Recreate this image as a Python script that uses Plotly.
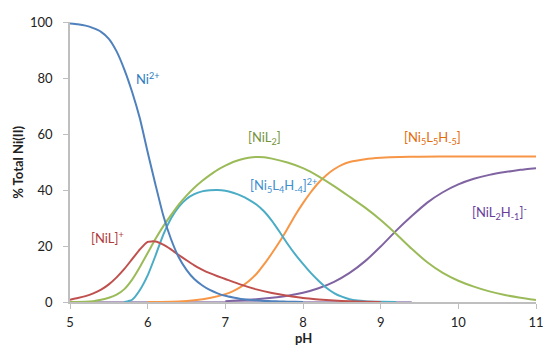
import plotly.graph_objects as go

# ---- data ----
ph_ni = [5.0, 5.1, 5.2, 5.3, 5.4, 5.5, 5.6, 5.7, 5.8, 5.9, 6.0, 6.1, 6.2, 6.3, 6.4, 6.5, 6.6, 6.7, 6.8, 6.9,
         7.0, 7.1, 7.2, 7.3, 7.4, 7.5, 7.6, 7.7, 7.8, 7.9, 8.0]
ni2 = [99.5, 99.2, 98.7, 97.8, 96.5, 94.0, 89.5, 83.0, 75.0, 65.5, 53.5, 42.0, 31.0, 22.5, 16.0, 11.5, 8.2, 6.0, 4.3, 3.1,
       2.2, 1.6, 1.1, 0.8, 0.6, 0.4, 0.3, 0.2, 0.1, 0.05, 0.0]

ph_nil = [5.0, 5.1, 5.2, 5.3, 5.4, 5.5, 5.6, 5.7, 5.8, 5.9, 6.0, 6.1, 6.2, 6.3, 6.4, 6.5, 6.6, 6.7, 6.8, 6.9,
          7.0, 7.2, 7.4, 7.6, 7.8, 8.0, 8.2, 8.4, 8.6, 8.8, 9.0]
nil = [0.8, 1.4, 2.1, 3.1, 4.4, 6.3, 8.8, 11.8, 15.3, 18.8, 21.5, 21.6, 20.5, 18.8, 16.8, 14.9, 13.1, 11.6, 10.3, 9.2,
       8.2, 6.2, 4.5, 3.2, 2.2, 1.4, 0.9, 0.5, 0.25, 0.1, 0.0]

ph_nil2 = [5.0, 5.2, 5.3, 5.4, 5.5, 5.6, 5.7, 5.8, 5.9, 6.0, 6.1, 6.2, 6.3, 6.4, 6.5, 6.6, 6.7, 6.8, 6.9, 7.0,
           7.1, 7.2, 7.3, 7.4, 7.5, 7.6, 7.8, 8.0, 8.2, 8.4, 8.6, 8.8, 9.0, 9.2, 9.4, 9.6, 9.8, 10.0, 10.2, 10.4,
           10.6, 10.8, 11.0]
nil2 = [0.0, 0.1, 0.3, 0.8, 1.5, 2.6, 4.6, 8.0, 12.5, 17.5, 22.5, 27.0, 31.0, 34.8, 38.0, 40.8, 43.2, 45.3, 47.2, 48.7,
        50.0, 50.9, 51.5, 51.8, 51.7, 51.2, 49.8, 47.8, 44.9, 41.4, 37.6, 33.7, 29.3, 24.3, 19.0, 14.2, 10.4, 7.6, 5.5, 3.8,
        2.5, 1.5, 0.7]

ph_n54 = [5.7, 5.8, 5.9, 6.0, 6.1, 6.2, 6.3, 6.4, 6.5, 6.6, 6.7, 6.8, 6.9, 7.0, 7.1, 7.2, 7.3, 7.4, 7.5, 7.6,
          7.7, 7.8, 7.9, 8.0, 8.1, 8.2, 8.3, 8.4, 8.5, 8.6, 8.7, 8.8, 9.0, 9.2]
n54 = [0.0, 0.8, 4.3, 9.5, 16.5, 24.0, 29.8, 34.0, 36.8, 38.5, 39.5, 39.9, 40.0, 39.7, 39.0, 38.0, 36.6, 34.8, 32.3, 29.0,
       25.0, 20.8, 17.0, 13.6, 10.4, 7.6, 5.1, 3.2, 1.9, 1.0, 0.5, 0.25, 0.05, 0.0]

ph_n55 = [6.0, 6.4, 6.6, 6.8, 7.0, 7.1, 7.2, 7.3, 7.4, 7.5, 7.6, 7.7, 7.8, 7.9, 8.0, 8.1, 8.2, 8.3, 8.4, 8.5,
          8.6, 8.8, 9.0, 9.25, 9.5, 10.0, 11.0]
n55 = [0.0, 0.2, 0.6, 1.4, 2.8, 3.9, 5.4, 7.4, 10.0, 13.5, 17.4, 21.6, 26.2, 31.0, 35.3, 39.2, 42.6, 45.3, 47.4, 49.0,
       50.0, 51.0, 51.5, 51.8, 51.9, 52.0, 52.0]

ph_nh = [7.0, 7.2, 7.4, 7.6, 7.8, 8.0, 8.2, 8.4, 8.6, 8.8, 9.0, 9.2, 9.4, 9.6, 9.8, 10.0, 10.2, 10.4, 10.6, 10.8, 11.0]
nh = [0.3, 0.6, 1.0, 1.5, 2.2, 3.3, 4.9, 7.2, 10.4, 14.6, 19.8, 25.5, 30.7, 35.5, 39.2, 42.0, 44.0, 45.4, 46.4, 47.2, 47.8]

ph_base = [5.0, 9.4]
base = [0.0, 0.0]

x_ticks = [5, 6, 7, 8, 9, 10, 11]
y_ticks = [0, 20, 40, 60, 80, 100]

FONT = "Lato"

fig = go.Figure()
fig.add_trace(go.Scatter(x=ph_base, y=base, mode="lines", line=dict(color="#b3a2c7", width=2), hoverinfo="skip"))
series = [
    (ph_nh, nh, "#8064a2"),
    (ph_n55, n55, "#f79646"),
    (ph_n54, n54, "#4bacc6"),
    (ph_nil2, nil2, "#9bbb59"),
    (ph_nil, nil, "#c0504d"),
    (ph_ni, ni2, "#4f81bd"),
]
for xs, ys, c in series:
    fig.add_trace(go.Scatter(x=xs, y=ys, mode="lines", cliponaxis=False,
                             line=dict(color=c, width=2, shape="spline", smoothing=0.5)))

labels = [
    (6.0, 80, "Ni<sup>2+</sup>", "#2e7cc0"),
    (5.48, 23, "[NiL]<sup>+</sup>", "#b23b3b"),
    (7.5, 58.6, "[NiL<sub>2</sub>]", "#77933c"),
    (7.75, 41.5, "[Ni<sub>5</sub>L<sub>4</sub>H<sub>-4</sub>]<sup>2+</sup>", "#3f8fcf"),
    (9.67, 58.6, "[Ni<sub>5</sub>L<sub>5</sub>H<sub>-5</sub>]", "#e46c0a"),
    (10.53, 32, "[NiL<sub>2</sub>H<sub>-1</sub>]<sup>-</sup>", "#6a3d9a"),
]
for x, y, t, c in labels:
    fig.add_annotation(x=x, y=y, text=t, showarrow=False, font=dict(family=FONT, size=13, color=c))

# axis titles
fig.add_annotation(xref="paper", yref="paper", x=0.5, y=-0.127, yanchor="middle", showarrow=False,
                   text="<b>pH</b>", font=dict(family=FONT, size=13, color="#222"))
fig.add_annotation(xref="paper", yref="paper", x=-0.112, y=0.5, xanchor="center", showarrow=False,
                   textangle=-90, text="<b>% Total Ni(II)</b>", font=dict(family=FONT, size=13, color="#222"))

fig.update_layout(
    width=543, height=346,
    margin=dict(l=70, r=7, t=22, b=44),
    paper_bgcolor="white", plot_bgcolor="white",
    showlegend=False,
    font=dict(family=FONT, size=13, color="#222"),
    xaxis=dict(range=[5, 11], tickvals=x_ticks, showgrid=False, zeroline=False, automargin=False,
               showline=True, linecolor="#bfbfbf", linewidth=1.5, ticklabeloverflow="allow",
               ticks="outside", ticklen=5, tickcolor="#bfbfbf", ticklabelstandoff=3),
    yaxis=dict(range=[0, 100], tickvals=y_ticks, showgrid=False, zeroline=False, automargin=False,
               showline=True, linecolor="#bfbfbf", linewidth=1.5, ticklabeloverflow="allow",
               ticks="outside", ticklen=5, tickcolor="#bfbfbf", ticklabelstandoff=8),
)

fig.write_html("out.html", config={"displayModeBar": False},
               post_script="document.body.style.margin='0';document.body.style.overflow='hidden';")
